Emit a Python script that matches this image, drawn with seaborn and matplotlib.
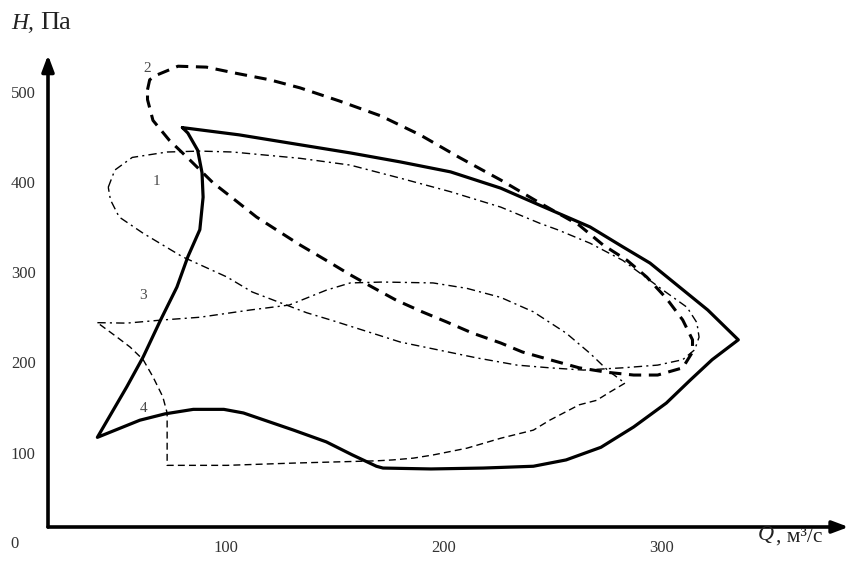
import numpy as np
import pandas as pd
import seaborn as sns
import matplotlib
matplotlib.use("Agg")
import matplotlib.pyplot as plt

# ---- data (Q in m3/s, H in Pa) ----
# curve: thick solid envelope (closed)
env_q = [80, 93, 106, 134, 157, 180, 203, 226, 244, 267, 282, 294.5, 308, 321, 335,
         323, 313, 302, 287, 272, 256, 241, 218, 194, 172, 169, 158, 146, 131, 108, 99, 85, 72, 60.5, 41,
         54.5, 62, 70, 77.5, 82.5, 88, 89.5, 89, 87, 82.5, 80]
env_h = [460, 456, 452, 441, 432, 422, 411, 393, 374, 350, 328, 310, 283.5, 258, 225,
         203, 180.5, 155, 128.5, 106, 92, 85, 83, 82, 83, 85, 97.5, 112, 125, 144, 148, 148, 143, 136, 117,
         173, 206, 247, 283.5, 317, 347, 383, 410, 435, 454, 460]

# curve 2: thick dashed loop
c2_q = [64, 65, 68, 78, 91, 105, 120, 134, 152, 171, 189, 207, 226, 244, 262, 273, 284, 293, 302, 309.5,
        314, 314, 309.5, 298, 287, 275, 262, 248.5, 236, 226, 213, 201, 190, 178, 167, 157, 146, 134, 123,
        114, 103, 94, 83.5, 74, 66.5, 64, 64]
c2_h = [502, 513, 518, 528, 527, 520, 513, 504, 489.5, 473, 452, 427, 402, 376.5, 352, 330, 313, 294.5, 271, 247,
        225, 211.5, 194, 186, 186, 189, 194, 203, 211.5, 221.5, 232.5, 245, 256, 269, 283.5, 297, 313, 330, 347,
        361, 382, 399, 424, 446, 468, 491, 502]

# curve 1: thin loop
c1_q = [46, 49, 57, 73, 88, 103, 134, 157, 180, 203, 226, 244, 252, 267, 282, 300.5, 311.5, 316, 317, 315,
        309.5, 298, 282, 264, 248.5, 233.5, 215, 197, 180, 165, 148, 137, 125, 112, 100.5, 80, 62, 51, 47, 46]
c1_h = [394, 413, 427, 433, 434, 433, 426, 418.5, 404, 389, 372, 354, 347, 332, 313, 280, 261, 244, 228, 214,
        203, 197, 194, 191.5, 194, 197, 205, 214, 222.5, 234, 247, 255, 266, 278, 294.5, 317, 343, 361, 380, 394]

# curve 3: upper thin branch
c3_q = [41, 54.5, 71, 88, 111, 129, 146, 157, 172, 195, 210.5, 226, 241, 256, 267, 275, 283]
c3_h = [244, 243.5, 247, 250, 258, 263.5, 280, 288, 289, 288, 282, 272, 256, 232.5, 210, 191.5, 177]

# curve 4: lower thin branch
c4_q = [283, 276, 270, 262, 248.5, 241, 226, 210.5, 195, 186, 176.5, 169, 146, 131, 100.5, 73, 73, 71, 66.5,
        62, 56, 50, 41]
c4_h = [177, 167, 158, 153, 136, 125, 116, 105, 97.5, 94, 92, 91, 89.5, 88.5, 86, 86, 144, 162, 184,
        203, 217, 228, 244]

labels = ["1", "2", "3", "4"]
label_q = [68, 64, 62, 62]
label_h = [400, 526, 274, 149]

x_ticks = [100, 200, 300]
y_ticks = [100, 200, 300, 400, 500]

# ---- figure ----
sns.set_theme(style="white")
plt.rcParams["font.family"] = ["Liberation Serif", "DejaVu Serif"]

fig = plt.figure(figsize=(8.5, 5.63), dpi=100)
ax = fig.add_axes([48 / 850, 36 / 563, 802 / 850, 527 / 563])
ax.set_xlim(18.35, 386.24)
ax.set_ylim(17.72, 601.33)
for s in ax.spines.values():
    s.set_visible(False)


def draw(q, h, lw, dashes=None):
    df = pd.DataFrame({"Q": q, "H": h})
    sns.lineplot(data=df, x="Q", y="H", sort=False, estimator=None, color="black",
                 linewidth=lw, ax=ax)
    line = ax.lines[-1]
    line.set_solid_joinstyle("round")
    if dashes is not None:
        line.set_dashes(dashes)
        line.set_dash_joinstyle("round")


draw(env_q, env_h, 2.3)
draw(c2_q, c2_h, 2.2, (4.0, 2.5))
draw(c1_q, c1_h, 1.0, (6, 3, 1.5, 3))
draw(c3_q, c3_h, 1.0, (6, 3, 1.5, 3))
draw(c4_q, c4_h, 1.0, (5, 3))

ax.set_xlabel("")
ax.set_ylabel("")

# axes arrows
ax.annotate("", xy=(18.35, 540.4), xytext=(18.35, 17.72),
            arrowprops=dict(arrowstyle="-|>,head_length=0.8,head_width=0.3", lw=2.6,
                            color="black", shrinkA=0, shrinkB=0),
            annotation_clip=False)
ax.annotate("", xy=(385.6, 17.72), xytext=(18.35, 17.72),
            arrowprops=dict(arrowstyle="-|>,head_length=0.8,head_width=0.3", lw=2.6,
                            color="black", shrinkA=0, shrinkB=0),
            annotation_clip=False)

ax.set_xticks(x_ticks)
ax.set_yticks(y_ticks)
ax.set_xticklabels([str(v) for v in x_ticks])
ax.set_yticklabels([str(v) for v in y_ticks])
ax.tick_params(axis="both", length=0, labelsize=12, labelcolor="#333333")
ax.tick_params(axis="x", pad=9)
ax.tick_params(axis="y", pad=9)

# origin label
ax.text(3.2, -1.1, "0", ha="center", va="center", fontsize=12, color="#333333",
        clip_on=False)

# curve labels
for t, q, h in zip(labels, label_q, label_h):
    ax.text(q, h, t, ha="center", va="center", fontsize=11, color="#4a4a4a")

# axis titles
fig.text(11 / 850, 1 - 29 / 563, "H,", fontsize=17, style="italic", ha="left", va="baseline",
         color="#222222")
fig.text(40 / 850, 1 - 29 / 563, "Па", fontsize=19, ha="left", va="baseline", color="#222222")

fig.text(766 / 850, 1 - 540 / 563, "Q", fontsize=16, style="italic", ha="center", va="baseline",
         color="#222222")
fig.text(776 / 850, 1 - 542 / 563, ", м³/с", fontsize=15.5, ha="left", va="baseline", color="#222222")

fig.savefig("out.png", dpi=100, facecolor="white")
